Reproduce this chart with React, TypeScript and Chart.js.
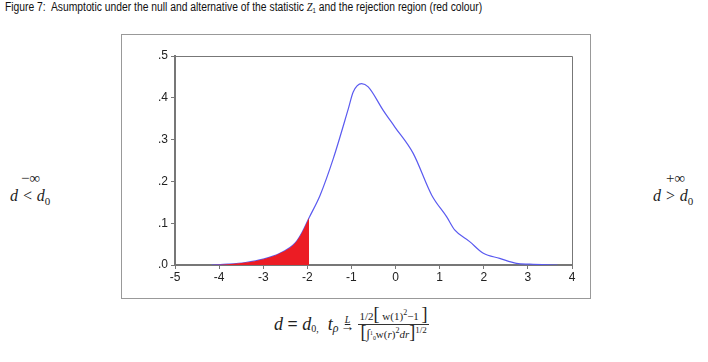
import React, { useEffect, useRef } from "react";
import { Chart, registerables } from "chart.js";

Chart.register(...registerables);

const xValues = [-4.17, -3.8, -3.4, -3.0, -2.62, -2.28, -2.13, -1.96, -1.71, -1.41, -1.07, -0.96, -0.77, -0.62, -0.28, -0.015, 0.4, 0.82, 1.16, 1.34, 1.68, 1.99, 2.36, 2.74, 3.04, 3.67];
const densityValues = [0.0, 0.002, 0.006, 0.014, 0.028, 0.052, 0.076, 0.113, 0.167, 0.255, 0.374, 0.414, 0.434, 0.426, 0.37, 0.33, 0.267, 0.167, 0.115, 0.084, 0.056, 0.028, 0.016, 0.004, 0.002, 0.0];
const criticalValue = -1.96;
const xTicks = [-5, -4, -3, -2, -1, 0, 1, 2, 3, 4];
const yTickLabels = [".0", ".1", ".2", ".3", ".4", ".5"];

const curve = xValues.map((x, i) => ({ x, y: densityValues[i] }));
const rejection = curve.filter((p) => p.x <= criticalValue);

const frame = {
  id: "frame",
  afterDraw(chart: any) {
    const { ctx, chartArea: a } = chart;
    ctx.save();
    ctx.strokeStyle = "#777";
    ctx.lineWidth = 1;
    ctx.beginPath();
    ctx.moveTo(a.left, a.top + 0.5);
    ctx.lineTo(a.right + 0.5, a.top + 0.5);
    ctx.lineTo(a.right + 0.5, a.bottom);
    ctx.stroke();
    ctx.restore();
  },
};

export default function App() {
  const ref = useRef<HTMLCanvasElement>(null);
  useEffect(() => {
    const chart = new Chart(ref.current!, {
      type: "line",
      data: {
        datasets: [
          {
            data: rejection,
            borderWidth: 0,
            borderColor: "rgba(0,0,0,0)",
            backgroundColor: "rgb(236,28,36)",
            fill: "origin",
            pointRadius: 0,
            cubicInterpolationMode: "monotone",
          },
          {
            data: curve,
            borderWidth: 1.2,
            borderColor: "rgb(90,90,240)",
            fill: false,
            pointRadius: 0,
            cubicInterpolationMode: "monotone",
          },
        ],
      },
      options: {
        animation: false,
        responsive: false,
        maintainAspectRatio: false,
        layout: { padding: { top: 21, right: 18, left: 0, bottom: 0 } },
        plugins: { legend: { display: false }, tooltip: { enabled: false } },
        scales: {
          x: {
            type: "linear",
            min: -5,
            max: 4,
            afterBuildTicks: (s: any) => {
              s.ticks = xTicks.map((v) => ({ value: v }));
            },
            afterFit: (s: any) => {
              s.height = 33;
            },
            grid: { drawOnChartArea: false, drawTicks: true, tickLength: 4, color: "#777" },
            border: { display: true, color: "#777", width: 2 },
            ticks: {
              color: "#222",
              font: { family: "Liberation Sans, Arial", size: 12 },
              padding: 1,
              maxRotation: 0,
              autoSkip: false,
              callback: (v: any) => String(v),
            },
          },
          y: {
            type: "linear",
            min: 0,
            max: 0.5,
            afterBuildTicks: (s: any) => {
              s.ticks = yTickLabels.map((_, i) => ({ value: i / 10 }));
            },
            afterFit: (s: any) => {
              s.width = 53;
            },
            grid: { drawOnChartArea: false, drawTicks: true, tickLength: 4, color: "#777" },
            border: { display: true, color: "#777", width: 2 },
            ticks: {
              color: "#222",
              font: { family: "Liberation Sans, Arial", size: 12 },
              padding: 3,
              autoSkip: false,
              callback: (v: any) => yTickLabels[Math.round(Number(v) * 10)],
            },
          },
        },
      },
      plugins: [frame],
    } as any);
    return () => chart.destroy();
  }, []);

  const serif = { fontFamily: "'Liberation Serif', 'Times New Roman', serif" };
  const abs = (left: number, top: number): React.CSSProperties => ({ position: "absolute", left, top });

  return (
    <div style={{ position: "fixed", left: 0, top: 0, width: 708, height: 362, background: "#fff", fontFamily: "'Liberation Sans', Arial, sans-serif" }}>
      <div style={{ ...abs(5, 0), fontSize: 12, lineHeight: "14px", height: 14, whiteSpace: "nowrap", transform: "scaleX(0.86)", transformOrigin: "left top", color: "#111" }}>
        Figure 7:&nbsp; Asumptotic under the null and alternative of the statistic{" "}
        <span style={{ ...serif, fontStyle: "italic" }}>Z</span>
        <span style={{ fontSize: 7, position: "relative", top: 2 }}>1</span> and the rejection region (red colour)
      </div>
      <div style={{ ...abs(121, 34), width: 468, height: 263, border: "1px solid #999" }}>
        <canvas ref={ref} width={468} height={263} style={{ display: "block" }} />
      </div>
      <div style={{ ...abs(21, 170), ...serif, fontSize: 15, color: "#222" }}>−∞</div>
      <div style={{ ...abs(10, 187), ...serif, fontSize: 16, fontStyle: "italic", color: "#222", whiteSpace: "nowrap" }}>
        d &lt; d<sub style={{ fontSize: 11, fontStyle: "normal" }}>0</sub>
      </div>
      <div style={{ ...abs(666, 170), ...serif, fontSize: 15, color: "#222" }}>+∞</div>
      <div style={{ ...abs(653, 187), ...serif, fontSize: 16, fontStyle: "italic", color: "#222", whiteSpace: "nowrap" }}>
        d &gt; d<sub style={{ fontSize: 11, fontStyle: "normal" }}>0</sub>
      </div>
      <div style={{ ...abs(274, 307), ...serif, fontSize: 18, color: "#222", whiteSpace: "nowrap", display: "flex", alignItems: "center" }}>
        <span style={{ fontStyle: "italic" }}>d</span>
        <span style={{ fontWeight: "bold" }}>&nbsp;=&nbsp;</span>
        <span style={{ fontStyle: "italic" }}>d</span>
        <span style={{ fontSize: 10, position: "relative", top: 4 }}>0,</span>
        <span>&nbsp;&nbsp;</span>
        <span style={{ fontStyle: "italic" }}>t</span>
        <span style={{ fontSize: 12, fontStyle: "italic", position: "relative", top: 4 }}>ρ</span>
        <span style={{ display: "inline-flex", flexDirection: "column", alignItems: "center", margin: "0 2px", lineHeight: 1 }}>
          <span style={{ fontSize: 10, fontStyle: "italic", textDecoration: "underline" }}>L</span>
          <span style={{ fontSize: 14, marginTop: -5 }}>→</span>
        </span>
        <span style={{ display: "inline-flex", flexDirection: "column", alignItems: "center", fontSize: 11, lineHeight: "15px" }}>
          <span style={{ padding: "0 3px 0", whiteSpace: "nowrap" }}>
            1/2<span style={{ fontSize: 18 }}>[</span> w(1)<sup style={{ fontSize: 8, lineHeight: 0 }}>2</sup>−1 <span style={{ fontSize: 18 }}>]</span>
          </span>
          <span style={{ borderTop: "1px solid #333", padding: "0 2px 0", whiteSpace: "nowrap" }}>
            <span style={{ fontSize: 18 }}>[</span>
            <span style={{ fontSize: 13 }}>∫</span>
            <span style={{ fontSize: 7, lineHeight: 0 }}>
              <sup>1</sup>
              <sub>0</sub>
            </span>
            w(<span style={{ fontStyle: "italic" }}>r</span>)<sup style={{ fontSize: 8, lineHeight: 0 }}>2</sup>
            <span style={{ fontStyle: "italic" }}>dr</span>
            <span style={{ fontSize: 18 }}>]</span>
            <sup style={{ fontSize: 9, lineHeight: 0 }}>1/2</sup>
          </span>
        </span>
      </div>
    </div>
  );
}
